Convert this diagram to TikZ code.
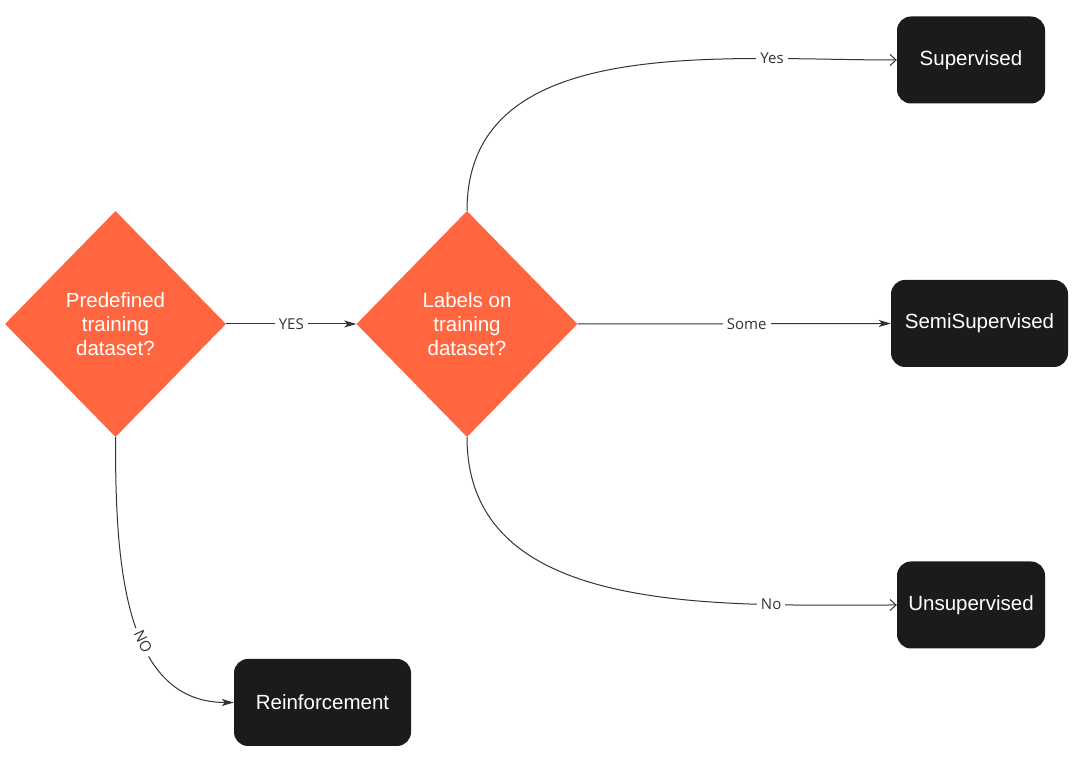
\documentclass[tikz,border=0pt]{standalone}
\usepackage{fontspec}
\setmainfont{Liberation Sans}
\newfontfamily\edgefont{Open Sans}
\usetikzlibrary{shapes.geometric,arrows.meta}
\definecolor{decisionorange}{HTML}{FF6640}
\definecolor{boxblack}{HTML}{1B1B1B}
\definecolor{linegray}{HTML}{333333}
\tikzset{
  decision/.style={diamond, fill=decisionorange, text=white, minimum width=221pt,
    minimum height=226pt, inner sep=0pt, align=center, font=\fontsize{20.5}{24}\selectfont},
  outcome/.style={rectangle, rounded corners=14pt, fill=boxblack, text=white,
    minimum height=87pt, font=\fontsize{20.5}{24}\selectfont},
  flow/.style={draw=linegray, line width=1pt},
  filledtip/.style={-{Stealth[length=12pt,width=7pt,inset=3pt]}},
  opentip/.style={-{Straight Barb[length=6pt,width=11pt]}},
  edgelabel/.style={fill=white, text=linegray, inner sep=4pt,
    font=\edgefont\fontsize{15}{16}\selectfont},
}
\begin{document}
\begin{tikzpicture}[x=1pt,y=1pt]
  \useasboundingbox (0,0) rectangle (1084,762);

  \node[decision] (predefined) at (115.5,438) {Predefined\\training\\dataset?};
  \node[decision] (labels) at (467,438) {Labels on\\training\\dataset?};

  \node[outcome, minimum width=148pt] (supervised) at (971,702) {Supervised};
  \node[outcome, minimum width=177pt] (semi) at (979.5,438.5) {SemiSupervised};
  \node[outcome, minimum width=148pt] (unsupervised) at (971,157) {Unsupervised};
  \node[outcome, minimum width=177pt] (reinforcement) at (322.5,59.5) {Reinforcement};

  \draw[flow, filledtip] (predefined.east) -- node[edgelabel] {YES} (labels.west);
  \draw[flow, filledtip] (predefined.south) to[out=-90,in=180]
    node[edgelabel, pos=0.6, sloped] {NO} (reinforcement.west);

  \draw[flow, opentip] (labels.north) to[out=90,in=180]
    node[edgelabel, pos=0.78] {Yes} (supervised.west);
  \draw[flow, filledtip] (labels.east) -- node[edgelabel, pos=0.54] {Some} (semi.west);
  \draw[flow, opentip] (labels.south) to[out=-90,in=180]
    node[edgelabel, pos=0.78] {No} (unsupervised.west);
\end{tikzpicture}
\end{document}
